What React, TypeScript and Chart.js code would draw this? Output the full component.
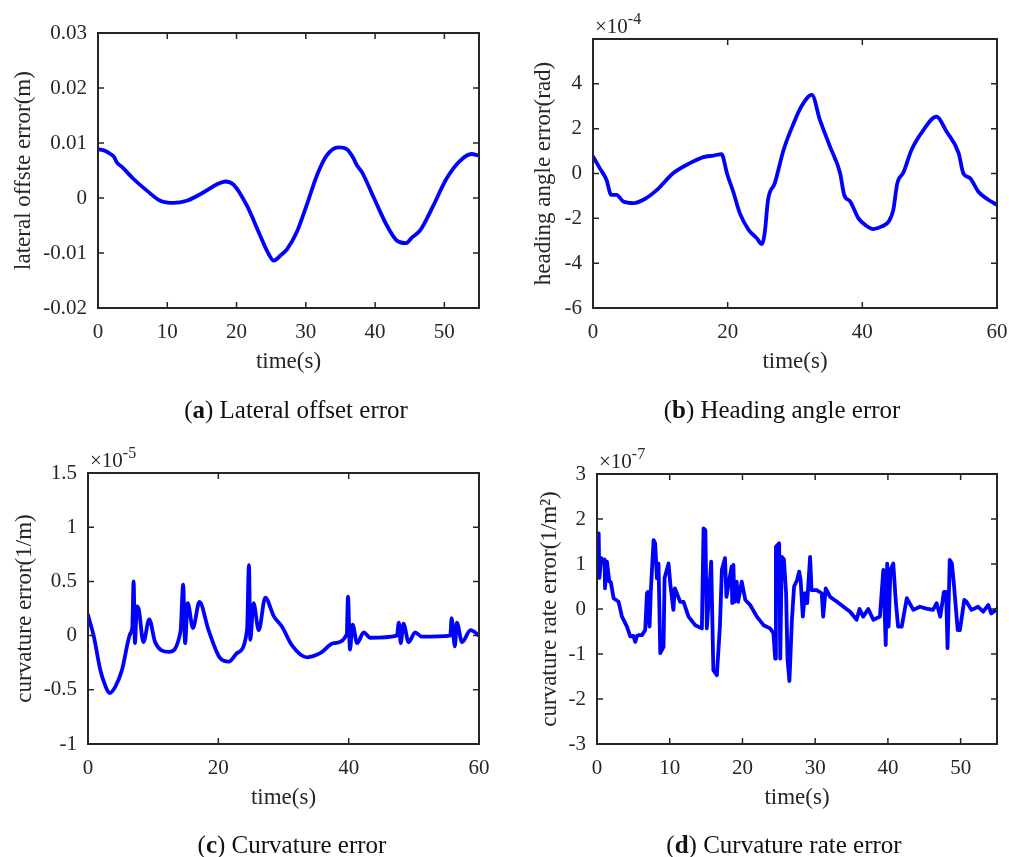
import React, { useEffect, useRef } from 'react';
import { Chart, registerables } from 'chart.js';

Chart.register(...registerables);

const FONT = "'Liberation Serif', 'Times New Roman', serif";
const TXT = '#262626';
const LINE = '#0000ff';

// ---------- (a) lateral offset error (m) ----------
const A_T = [0, 1, 1.8, 2.3, 2.7, 3.5, 5.1, 7.1, 9.0, 10.9, 12.8, 15.2, 17.2, 18.4, 19.6, 21.5, 23.4, 24.4, 25.4, 25.8, 26.3, 27.3, 28.7, 30.1, 31.6, 33.0, 34.7, 35.9, 36.8, 37.4, 38.1, 39.8, 41.7, 43.2, 44.5, 45.3, 46.5, 48.4, 50.3, 52.3, 53.9, 55];
const A_V = [0.0089, 0.0086, 0.0080, 0.0075, 0.0065, 0.0056, 0.0035, 0.0013, -0.0005, -0.0009, -0.0005, 0.0010, 0.0025, 0.0030, 0.0024, -0.0014, -0.0068, -0.0096, -0.0114, -0.0111, -0.0105, -0.0093, -0.0062, -0.0014, 0.0041, 0.0077, 0.0092, 0.0089, 0.0074, 0.0059, 0.0047, 0.0001, -0.0050, -0.0078, -0.0082, -0.0072, -0.0059, -0.0014, 0.0035, 0.0068, 0.0080, 0.0077];
const A_XTICKS = [0, 10, 20, 30, 40, 50];
const A_YTICKS = [-0.02, -0.01, 0, 0.01, 0.02, 0.03];
const A_YLABELS = ['-0.02', '-0.01', '0', '0.01', '0.02', '0.03'];

// ---------- (b) heading angle error (x1e-4 rad) ----------
const B_T = [0, 1.0, 2.0, 2.7, 3.5, 4.5, 6.0, 7.5, 9.5, 11.9, 14.4, 16.4, 17.9, 19.1, 19.9, 20.9, 21.8, 23.1, 24.3, 25.1, 25.5, 26.0, 27.0, 28.3, 29.8, 31.0, 32.5, 33.7, 35.2, 36.7, 37.3, 38.2, 39.4, 40.6, 41.6, 42.9, 44.0, 44.6, 45.2, 46.1, 47.3, 49.1, 51.0, 52.5, 54.3, 55.0, 56.0, 57.2, 58.7, 60];
const B_V = [0.76, 0.24, -0.28, -0.95, -0.95, -1.25, -1.32, -1.17, -0.73, 0.01, 0.46, 0.73, 0.80, 0.86, 0.0, -0.88, -1.77, -2.51, -2.88, -3.15, -2.66, -1.17, -0.43, 1.05, 2.24, 3.02, 3.51, 2.39, 1.20, 0.01, -0.95, -1.25, -1.99, -2.33, -2.48, -2.36, -2.11, -1.62, -0.43, 0.04, 1.05, 1.95, 2.54, 1.87, 0.91, 0.01, -0.21, -0.80, -1.17, -1.40];
const B_XTICKS = [0, 20, 40, 60];
const B_YTICKS = [-6, -4, -2, 0, 2, 4, 6];
const B_YLABELS = ['-6', '-4', '-2', '0', '2', '4', ''];

// ---------- (c) curvature error (x1e-5 1/m) ----------
const C_T = [0, 0.9, 1.9, 2.7, 3.3, 4.2, 5.2, 6.5, 6.8, 7.0, 7.2, 7.5, 7.8, 8.5, 9.4, 10.3, 12.4, 14.2, 14.6, 14.9, 15.3, 16.1, 17.1, 18.5, 20.3, 21.6, 22.9, 24.4, 24.7, 24.9, 25.4, 26.2, 27.2, 28.5, 29.8, 31.3, 33.6, 35.7, 37.7, 39.7, 39.9, 40.2, 40.6, 41.3, 42.3, 43.3, 47.4, 47.7, 48.0, 48.4, 49.2, 50.2, 51.2, 55.6, 55.8, 56.3, 56.6, 57.4, 58.7, 60];
const C_V = [0.19, -0.01, -0.32, -0.47, -0.53, -0.47, -0.32, 0.02, 0.08, 0.50, -0.07, 0.27, 0.24, -0.06, 0.15, -0.06, -0.15, 0.04, 0.47, -0.07, 0.30, 0.07, 0.31, 0.05, -0.21, -0.24, -0.16, 0.05, 0.65, -0.04, 0.30, 0.05, 0.35, 0.18, 0.08, -0.09, -0.20, -0.16, -0.07, 0.01, 0.36, -0.13, 0.10, -0.07, 0.03, -0.02, 0.0, 0.12, -0.07, 0.11, -0.06, 0.03, -0.01, 0.0, 0.16, -0.10, 0.12, -0.06, 0.05, 0.0];
const C_XTICKS = [0, 20, 40, 60];
const C_YTICKS = [-1, -0.5, 0, 0.5, 1, 1.5];
const C_YLABELS = ['-1', '-0.5', '0', '0.5', '1', '1.5'];

// ---------- (d) curvature rate error (x1e-7 1/m^2) ----------
const D_T = [0, 0.23, 0.32, 0.6, 0.8, 1.05, 1.1, 1.37, 1.69, 1.9, 2.28, 2.97, 3.43, 4.12, 4.57, 5.0, 5.26, 5.5, 5.72, 6.18, 6.63, 6.87, 7.0, 7.23, 7.4, 7.78, 8.0, 8.24, 8.46, 8.7, 9.15, 9.29, 9.84, 10.07, 10.5, 10.7, 11.44, 11.9, 12.58, 13.5, 14.42, 14.65, 14.9, 15.1, 15.7, 16.0, 16.48, 16.9, 17.17, 17.6, 17.8, 18.5, 18.6, 18.75, 18.9, 19.2, 19.4, 19.9, 20.4, 21.06, 21.98, 22.9, 23.8, 24.26, 24.5, 24.6, 25.05, 25.2, 25.4, 25.7, 26.0, 26.2, 26.46, 26.8, 27.1, 27.5, 27.8, 28.0, 28.3, 28.6, 28.9, 29.3, 29.5, 30.2, 30.9, 31.1, 31.45, 32.05, 33.0, 33.9, 34.8, 35.7, 36.1, 36.6, 37.3, 38.0, 38.9, 39.37, 39.7, 39.9, 40.1, 40.35, 40.74, 41.07, 41.4, 41.9, 42.6, 43.5, 44.4, 45.3, 46.2, 46.7, 47.2, 47.7, 48.0, 48.2, 48.5, 48.8, 49.1, 49.6, 49.9, 50.5, 50.8, 51.5, 52.4, 53.1, 53.8, 54.2, 55];
const D_V = [1.16, 1.68, 0.69, 1.13, 1.05, 1.1, 0.46, 1.05, 0.61, 0.6, 0.24, 0.16, -0.17, -0.39, -0.61, -0.6, -0.73, -0.6, -0.58, -0.58, -0.47, 0.35, 0.38, -0.39, 0.4, 1.53, 1.46, 0.68, 1.01, -0.98, -0.84, 0.69, 1.01, 0.57, -0.02, 0.46, 0.16, 0.16, -0.17, -0.36, -0.43, 1.79, 1.75, -0.43, 1.05, -1.36, -1.47, -0.39, 0.87, 1.13, 0.27, 0.94, 0.13, 0.98, 0.16, 0.61, 0.16, 0.61, 0.2, 0.09, -0.17, -0.36, -0.43, -0.54, -1.1, 1.38, 1.46, -1.1, 1.16, 1.1, 0.35, -1.13, -1.6, -0.24, 0.5, 0.64, 0.83, 0.64, -0.17, 0.35, 0.13, 1.16, 0.42, 0.42, 0.35, -0.17, 0.46, 0.27, 0.16, 0.05, -0.06, -0.24, 0.0, -0.17, 0.0, -0.24, -0.17, 0.87, -0.8, 1.01, -0.39, 0.87, 1.01, 0.2, -0.39, -0.39, 0.24, -0.02, 0.05, 0.01, -0.02, 0.13, -0.17, 0.38, 0.38, -0.87, 1.09, 1.01, 0.5, -0.47, -0.47, 0.2, 0.16, -0.02, 0.05, -0.06, 0.09, -0.1, 0.0];
const D_XTICKS = [0, 10, 20, 30, 40, 50];
const D_YTICKS = [-3, -2, -1, 0, 1, 2, 3];
const D_YLABELS = ['-3', '-2', '-1', '0', '1', '2', '3'];

const X_TITLE = 'time(s)';

type Panel = {
  left: number; top: number; w: number; h: number;
  area: { l: number; t: number; r: number; b: number };
  xMin: number; xMax: number; xTicks: number[];
  yMin: number; yMax: number; yTicks: number[]; yLabels: string[];
  T: number[]; V: number[];
  yTitle: string; yTitleCenter: number;
  exp: string | null;
  tag: string; caption: string; capX: number; capY: number;
  smooth: boolean;
};

const PANELS: Panel[] = [
  {
    left: 0, top: 0, w: 504, h: 430, area: { l: 98, t: 33, r: 479, b: 308 },
    xMin: 0, xMax: 55, xTicks: A_XTICKS, yMin: -0.02, yMax: 0.03, yTicks: A_YTICKS, yLabels: A_YLABELS,
    T: A_T, V: A_V, yTitle: 'lateral offste error(m)', yTitleCenter: 24, exp: null,
    tag: 'a', caption: ' Lateral offset error', capX: 296, capY: 418, smooth: true,
  },
  {
    left: 504, top: 0, w: 530, h: 430, area: { l: 89, t: 39, r: 493, b: 308 },
    xMin: 0, xMax: 60, xTicks: B_XTICKS, yMin: -6, yMax: 6, yTicks: B_YTICKS, yLabels: B_YLABELS,
    T: B_T, V: B_V, yTitle: 'heading angle error(rad)', yTitleCenter: 40, exp: '-4',
    tag: 'b', caption: ' Heading angle error', capX: 278, capY: 418, smooth: true,
  },
  {
    left: 0, top: 430, w: 504, h: 427, area: { l: 88, t: 43, r: 479, b: 314 },
    xMin: 0, xMax: 60, xTicks: C_XTICKS, yMin: -1, yMax: 1.5, yTicks: C_YTICKS, yLabels: C_YLABELS,
    T: C_T, V: C_V, yTitle: 'curvature error(1/m)', yTitleCenter: 25, exp: '-5',
    tag: 'c', caption: ' Curvature error', capX: 292, capY: 423, smooth: true,
  },
  {
    left: 504, top: 430, w: 505, h: 427, area: { l: 93, t: 44, r: 493, b: 314 },
    xMin: 0, xMax: 55, xTicks: D_XTICKS, yMin: -3, yMax: 3, yTicks: D_YTICKS, yLabels: D_YLABELS,
    T: D_T, V: D_V, yTitle: 'curvature rate error(1/m\u00B2)', yTitleCenter: 46, exp: '-7',
    tag: 'd', caption: ' Curvature rate error', capX: 280, capY: 423, smooth: false,
  },
];

const X_AXIS_H = 77;
const TICK_FONT = 21;
const TITLE_FONT = 23;

const framePlugin = {
  id: 'frame',
  afterDatasetsDraw(chart: any) {
    const { ctx, chartArea: a } = chart;
    const xs = chart.scales.x;
    const ys = chart.scales.y;
    ctx.save();
    ctx.strokeStyle = TXT;
    ctx.lineWidth = 1.5;
    ctx.beginPath();
    const L = 6;
    for (const t of xs.ticks) {
      const p = xs.getPixelForValue(t.value);
      ctx.moveTo(p, a.bottom); ctx.lineTo(p, a.bottom - L);
      ctx.moveTo(p, a.top); ctx.lineTo(p, a.top + L);
    }
    for (const t of ys.ticks) {
      const p = ys.getPixelForValue(t.value);
      ctx.moveTo(a.left, p); ctx.lineTo(a.left + L, p);
      ctx.moveTo(a.right, p); ctx.lineTo(a.right - L, p);
    }
    ctx.stroke();
    ctx.lineWidth = 2;
    ctx.strokeRect(a.left, a.top, a.right - a.left, a.bottom - a.top);
    ctx.restore();
  },
  afterDraw(chart: any, _args: any, opts: any) {
    const { ctx, chartArea: a } = chart;
    ctx.save();
    ctx.fillStyle = TXT;
    ctx.textBaseline = 'alphabetic';
    ctx.textAlign = 'left';
    if (opts.exp) {
      ctx.font = `${TICK_FONT}px ${FONT}`;
      const base = '\u00D710';
      ctx.fillText(base, a.left + 2, a.top - 6);
      const w = ctx.measureText(base).width;
      ctx.font = `16px ${FONT}`;
      ctx.fillText(opts.exp, a.left + 2 + w, a.top - 15);
    }
    if (opts.tag) {
      ctx.fillStyle = '#111';
      const nf = `25px ${FONT}`;
      const bf = `bold 25px ${FONT}`;
      const parts: [string, string][] = [['(', nf], [opts.tag, bf], [')' + opts.caption, nf]];
      let total = 0;
      const ws = parts.map(([s, f]) => { ctx.font = f; const w = ctx.measureText(s).width; total += w; return w; });
      let x = opts.capX - total / 2;
      parts.forEach(([s, f], i) => { ctx.font = f; ctx.fillText(s, x, opts.capY); x += ws[i]; });
    }
    ctx.restore();
  },
};

function buildConfig(p: Panel): any {
  return {
    type: 'line',
    data: {
      datasets: [{
        data: p.T.map((t, i) => ({ x: t, y: p.V[i] })),
        borderColor: LINE,
        borderWidth: 3.8,
        pointRadius: 0,
        fill: false,
        tension: 0,
        cubicInterpolationMode: p.smooth ? 'monotone' : 'default',
        borderJoinStyle: 'round',
        borderCapStyle: 'round',
      }],
    },
    options: {
      animation: false,
      responsive: false,
      maintainAspectRatio: false,
      events: [],
      layout: {
        padding: { left: 0, top: p.area.t, right: p.w - p.area.r, bottom: p.h - (p.area.b + X_AXIS_H) },
      },
      plugins: {
        legend: { display: false },
        tooltip: { enabled: false },
        frame: { exp: p.exp, tag: p.tag, caption: p.caption, capX: p.capX, capY: p.capY },
      },
      scales: {
        x: {
          type: 'linear',
          position: 'bottom',
          min: p.xMin,
          max: p.xMax,
          grid: { display: false, drawTicks: false },
          border: { display: false },
          afterBuildTicks: (s: any) => { s.ticks = p.xTicks.map((v) => ({ value: v })); },
          afterFit: (s: any) => { s.height = X_AXIS_H; },
          ticks: {
            padding: 12,
            maxRotation: 0,
            autoSkip: false,
            color: TXT,
            font: { family: FONT, size: TICK_FONT },
            callback: (v: any, i: number) => String(p.xTicks[i]),
          },
          title: {
            display: true,
            text: X_TITLE,
            color: TXT,
            font: { family: FONT, size: TITLE_FONT, lineHeight: 1 },
            padding: { top: 0, bottom: 11.5 },
          },
        },
        y: {
          type: 'linear',
          position: 'left',
          min: p.yMin,
          max: p.yMax,
          grid: { display: false, drawTicks: false },
          border: { display: false },
          afterBuildTicks: (s: any) => { s.ticks = p.yTicks.map((v) => ({ value: v })); },
          afterFit: (s: any) => { s.width = p.area.l; },
          ticks: {
            padding: 11,
            autoSkip: false,
            color: TXT,
            font: { family: FONT, size: TICK_FONT },
            callback: (v: any, i: number) => p.yLabels[i],
          },
          title: {
            display: true,
            text: p.yTitle,
            color: TXT,
            font: { family: FONT, size: TITLE_FONT, lineHeight: 1 },
            padding: { top: p.yTitleCenter - TITLE_FONT / 2, bottom: 0 },
          },
        },
      },
    },
    plugins: [framePlugin],
  };
}

function PanelChart({ p }: { p: Panel }) {
  const ref = useRef<HTMLCanvasElement | null>(null);
  useEffect(() => {
    if (!ref.current) return;
    const chart = new Chart(ref.current, buildConfig(p));
    return () => chart.destroy();
  }, [p]);
  return (
    <canvas
      ref={ref}
      width={p.w}
      height={p.h}
      style={{ position: 'absolute', left: p.left, top: p.top, width: p.w, height: p.h }}
    />
  );
}

export default function App() {
  useEffect(() => {
    document.body.style.margin = '0';
    document.body.style.background = '#ffffff';
  }, []);
  return (
    <div style={{ position: 'relative', width: 1009, height: 857, background: '#fff', overflow: 'hidden' }}>
      {PANELS.map((p) => (
        <PanelChart key={p.tag} p={p} />
      ))}
    </div>
  );
}
